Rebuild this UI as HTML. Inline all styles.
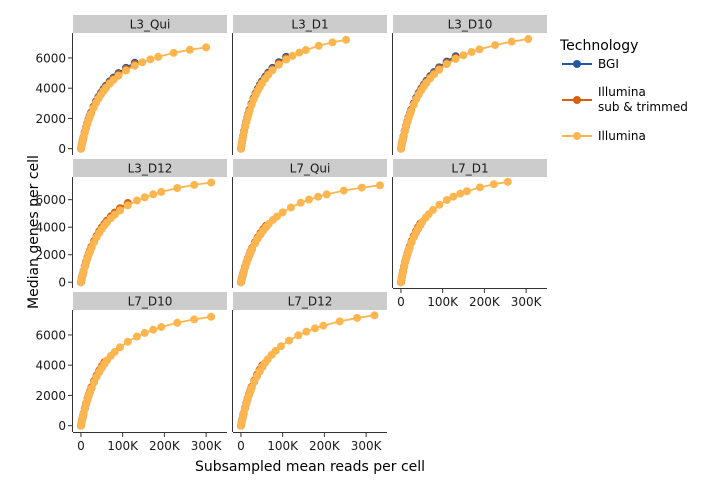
<!DOCTYPE html>
<html><head><meta charset="utf-8">
<style>
body{margin:0;background:#fff;}
svg{display:block;font-family:"DejaVu Sans","Liberation Sans",sans-serif;}
</style></head>
<body>
<svg id="chart" width="703" height="492" viewBox="0 0 703 492">
<text x="310" y="471" text-anchor="middle" font-size="14" fill="#000">Subsampled mean reads per cell</text>
<text transform="translate(38,232) rotate(-90)" text-anchor="middle" font-size="14" fill="#000">Median genes per cell</text>
<g>
<text x="560" y="50" font-size="14" fill="#000">Technology</text>
<g><line x1="562" y1="64" x2="592" y2="64" stroke="#2358a0" stroke-width="2"/><circle cx="577" cy="64" r="4" fill="#2358a0"/><text x="598" y="68" font-size="12">BGI</text></g>
<g><line x1="562" y1="100" x2="592" y2="100" stroke="#d9600f" stroke-width="2"/><circle cx="577" cy="100" r="4" fill="#d9600f"/><text x="598" y="96" font-size="12">Illumina</text><text x="598" y="111" font-size="12">sub &amp; trimmed</text></g>
<g><line x1="562" y1="136" x2="592" y2="136" stroke="#fdb64f" stroke-width="2"/><circle cx="577" cy="136" r="4" fill="#fdb64f"/><text x="598" y="140" font-size="12">Illumina</text></g>
</g>
<g id="panels"></g>
</svg>
<script>
const panelNames = ["L3_Qui","L3_D1","L3_D10","L3_D12","L7_Qui","L7_D1","L7_D10","L7_D12"];
// reads in thousands, genes per cell
const illMaxReads = [300,252,305,312,333,256,312,320];
const illMaxGenes = [6700,7200,7250,7250,7050,7300,7200,7300];
const bgiCutFraction = [0.43,0.43,0.43,0.4,0.19,0.18,0.18,0.17];
const bgiGeneFactor = [1.035,1.03,1.03,1.015,1.0,1.0,1.0,1.0];
const subCutFraction = [0.43,0.43,0.43,0.4,0.19,0.18,0.18,0.17];
const subGeneFactor = [1.018,1.015,1.015,1.03,1.025,1.025,1.025,1.025];
const illFractions = [0,.005,.01,.015,.02,.03,.04,.05,.06,.07,.08,.1,.12,.14,.16,.18,.2,.23,.26,.3,.36,.43,.49,.555,.617,.74,.87,1];
const illShape = [0,.029,.057,.084,.109,.157,.2,.24,.277,.311,.343,.4,.45,.494,.533,.568,.6,.642,.678,.72,.771,.819,.852,.882,.906,.945,.976,1];
const xTicks = [0,100,200,300];
const xTickLabels = ["0","100K","200K","300K"];
const yTicks = [0,2000,4000,6000];
const yTickLabels = ["0","2000","4000","6000"];

const NS = "http://www.w3.org/2000/svg";
const root = document.getElementById("panels");
function mk(tag, attrs, parent){const e=document.createElementNS(NS,tag);for(const k in attrs)e.setAttribute(k,attrs[k]);parent.appendChild(e);return e;}
const colX = [73,233,393], W = 154;
const rows = [{s:15,t:33,b:155},{s:159,t:177,b:288},{s:292,t:310,b:432}];
const xMin=-19, xMax=350, yMin=-420, yMax=7650;
const colors = {bgi:"#2358a0", sub:"#d9600f", ill:"#fdb64f"};

panelNames.forEach((name,i)=>{
  const c=i%3, r=Math.floor(i/3), L=colX[c], R=rows[r];
  const sx=v=>L+(v-xMin)/(xMax-xMin)*W;
  const sy=v=>R.b-(v-yMin)/(yMax-yMin)*(R.b-R.t);
  const g=mk("g",{},root);
  
  
  const strip=mk("rect",{x:L,y:R.s,width:W,height:R.t-R.s,fill:"#cccccc"},g);
  
  
  const st=mk("text",{x:L+W/2,y:R.s+13.5,"text-anchor":"middle","font-size":"12",fill:"#1a1a1a"},g);
  st.textContent=name;
  
  
  const ya=mk("line",{x1:L-0.5,y1:R.t,x2:L-0.5,y2:R.b,stroke:"#333","stroke-width":1},g);
  
  
  if(c===0){
    yTicks.forEach((v,k)=>{
      const t=mk("line",{x1:L-5,y1:sy(v),x2:L-1,y2:sy(v),stroke:"#333"},g);
      
      
      const tl=mk("text",{x:L-7,y:sy(v)+4.5,"text-anchor":"end","font-size":"12",fill:"#1a1a1a"},g);
      tl.textContent=yTickLabels[k];
      
      
    });
  }
  const hasX = (r===2) || (r===1 && c===2);
  if(hasX){
    const xa=mk("line",{x1:L,y1:R.b+0.5,x2:L+W,y2:R.b+0.5,stroke:"#333"},g);
    
    
    xTicks.forEach((v,k)=>{
      const t=mk("line",{x1:sx(v),y1:R.b+1,x2:sx(v),y2:R.b+5,stroke:"#333"},g);
      
      
      const tl=mk("text",{x:sx(v),y:R.b+18,"text-anchor":"middle","font-size":"12",fill:"#1a1a1a"},g);
      tl.textContent=xTickLabels[k];
      
      
    });
  }
  const series=[
    {key:"bgi",cut:bgiCutFraction[i],fac:bgiGeneFactor[i]},
    {key:"sub",cut:subCutFraction[i],fac:subGeneFactor[i]},
    {key:"ill",cut:1,fac:1}
  ];
  series.forEach(s=>{
    const sg=mk("g",{},g);
    
    
    const pts=[];
    illFractions.forEach((f,k)=>{
      if(f<=s.cut+1e-9) pts.push([sx(f*illMaxReads[i]),sy(illShape[k]*illMaxGenes[i]*s.fac)]);
    });
    const pl=mk("polyline",{points:pts.map(p=>p.join(",")).join(" "),fill:"none",stroke:colors[s.key],"stroke-width":1.8},sg);
    
    
    pts.forEach(p=>{
      const ci=mk("circle",{cx:p[0],cy:p[1],r:4,fill:colors[s.key]},sg);
      
      
    });
  });
});
</script>
</body></html>
